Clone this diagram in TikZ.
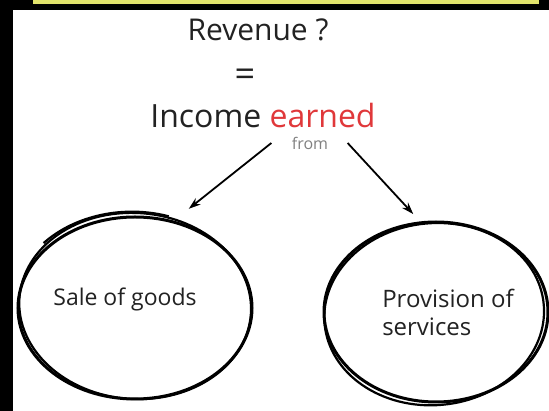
\documentclass[tikz,border=0pt]{standalone}
\usepackage{fontspec}
\setmainfont{Open Sans}
\usepackage{xcolor}
\usetikzlibrary{shapes.geometric}
\usetikzlibrary{positioning}
\usetikzlibrary{calc}
\usetikzlibrary{arrows.meta}

\definecolor{inkgray}{HTML}{222222}
\definecolor{earnedred}{HTML}{E0383A}
\definecolor{baryellow}{HTML}{E2E46C}

\tikzset{
	bubble/.style={ellipse,draw,line width=3pt,inner sep=0pt,align=left,text=inkgray,font=\fontsize{23}{28}\selectfont},
	retrace/.style={line width=2.2pt},
	pointer/.style={-{Stealth[length=12pt,width=8pt]},line width=1.8pt},
	heading/.style={text=inkgray,font=\fontsize{#1}{#1}\selectfont},
}

\begin{document}
\begin{tikzpicture}[x=1pt,y=-1pt]
	% frame: black border, white sheet, yellow bar on top
	\fill[black] (0,0) rectangle (549,411);
	\fill[white] (13,10) rectangle (549,411);
	\fill[baryellow] (33,0) rectangle (539,4.5);
	\useasboundingbox (0,0) rectangle (549,411);

	\node[heading=30] (rev) at (258,30) {Revenue ?};
	\node[heading=36] (eq) at (245,78) {=};
	\node[heading=32] (inc) at (263,116) {Income \textcolor{earnedred}{earned}};
	\node[heading=16,text=gray] (from) at (310,143) {from};

	\node[bubble,minimum width=234pt,minimum height=182pt] (sale) at (135,308) {Sale of goods\hspace*{20pt}\\[-6pt]\mbox{}};
	\node[bubble,minimum width=224pt,minimum height=180pt,font=\fontsize{24}{28}\selectfont] (serv) at (436,312) {\hspace*{24pt}Provision of\\\hspace*{24pt}services};

	% second pencil stroke round each bubble
	\draw[retrace,rotate around={-4:(sale.center)}] ($(sale.center)+(0,-2)$) ellipse [x radius=116, y radius=93];
	\draw[retrace] ($(sale.center)+(-3,-2)$) ++(222:119 and 94) arc[start angle=222, end angle=288, x radius=119, y radius=95];
	\draw[retrace,rotate around={5:(serv.center)}] ($(serv.center)+(-2,2)$) ellipse [x radius=110, y radius=91];

	\draw[pointer,shorten >=19pt] ([xshift=-17pt]from.west) -- (sale.66);
	\draw[pointer,shorten >=10pt] ([xshift=16pt]from.east) -- (serv.100);
\end{tikzpicture}
\end{document}
